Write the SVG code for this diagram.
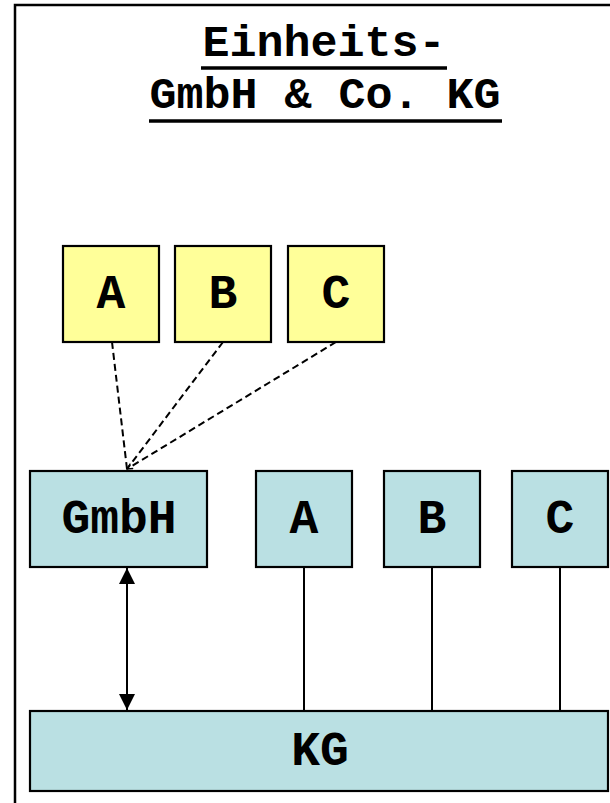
<svg xmlns="http://www.w3.org/2000/svg" width="610" height="803" viewBox="0 0 610 803">
  <style>
    .t { font-family: "Courier New", "Liberation Mono", monospace; font-weight: bold; fill: #000; text-anchor: middle; }
    .title { font-size: 45px; }
    .lbl { font-size: 48px; }
    .yel { fill: #FFFF99; stroke: #000; stroke-width: 2.2; }
    .teal { fill: #BAE0E3; stroke: #000; stroke-width: 2.2; }
    .dash { stroke: #000; stroke-width: 2; stroke-dasharray: 7,4; fill: none; }
    .solid { stroke: #000; stroke-width: 2; fill: none; }
  </style>
  <defs>
    <marker id="ah" viewBox="0 0 10 10" refX="9" refY="5" markerWidth="7" markerHeight="7" markerUnits="userSpaceOnUse" orient="auto">
      <path d="M1,1 L9,5 L1,9" fill="none" stroke="#000" stroke-width="2"/>
    </marker>
    <marker id="arr" viewBox="0 0 16 16" refX="16" refY="8" markerWidth="16" markerHeight="16" markerUnits="userSpaceOnUse" orient="auto-start-reverse">
      <path d="M0,0 L16,8 L0,16 z" fill="#000"/>
    </marker>
  </defs>
  <rect x="0" y="0" width="610" height="803" fill="#fff"/>
  <rect x="15" y="5" width="700" height="900" fill="none" stroke="#000" stroke-width="2.5"/>

  <g id="title">
    <text class="t title" x="324" y="56">Einheits-</text>
    <line x1="201" y1="68" x2="447" y2="68" stroke="#000" stroke-width="3.5"/>
    <text class="t title" x="325" y="108">GmbH &amp; Co. KG</text>
    <line x1="149" y1="121" x2="502" y2="121" stroke="#000" stroke-width="3.5"/>
  </g>

  <g id="connectors">
    <line class="dash" x1="112" y1="342" x2="127" y2="469"/>
    <line class="dash" x1="223" y1="342" x2="127" y2="469"/>
    <line class="dash" x1="336" y1="342" x2="127" y2="469" marker-end="url(#ah)"/>
    <line class="solid" x1="127" y1="568" x2="127" y2="710" marker-start="url(#arr)" marker-end="url(#arr)"/>
    <line class="solid" x1="304" y1="567" x2="304" y2="711"/>
    <line class="solid" x1="432" y1="567" x2="432" y2="711"/>
    <line class="solid" x1="560" y1="567" x2="560" y2="711"/>
  </g>

  <g id="yA"><rect class="yel" x="63" y="246" width="96" height="96"/><text class="t lbl" x="111" y="308">A</text></g>
  <g id="yB"><rect class="yel" x="175" y="246" width="96" height="96"/><text class="t lbl" x="223" y="308">B</text></g>
  <g id="yC"><rect class="yel" x="288" y="246" width="96" height="96"/><text class="t lbl" x="336" y="308">C</text></g>

  <g id="gmbh"><rect class="teal" x="30" y="471" width="177" height="96"/><text class="t lbl" x="119" y="533">GmbH</text></g>
  <g id="tA"><rect class="teal" x="256" y="471" width="96" height="96"/><text class="t lbl" x="304" y="533">A</text></g>
  <g id="tB"><rect class="teal" x="384" y="471" width="96" height="96"/><text class="t lbl" x="432" y="533">B</text></g>
  <g id="tC"><rect class="teal" x="512" y="471" width="96" height="96"/><text class="t lbl" x="560" y="533">C</text></g>
  <g id="kg"><rect class="teal" x="30" y="711" width="578" height="80"/><text class="t lbl" x="320" y="765">KG</text></g>
</svg>
